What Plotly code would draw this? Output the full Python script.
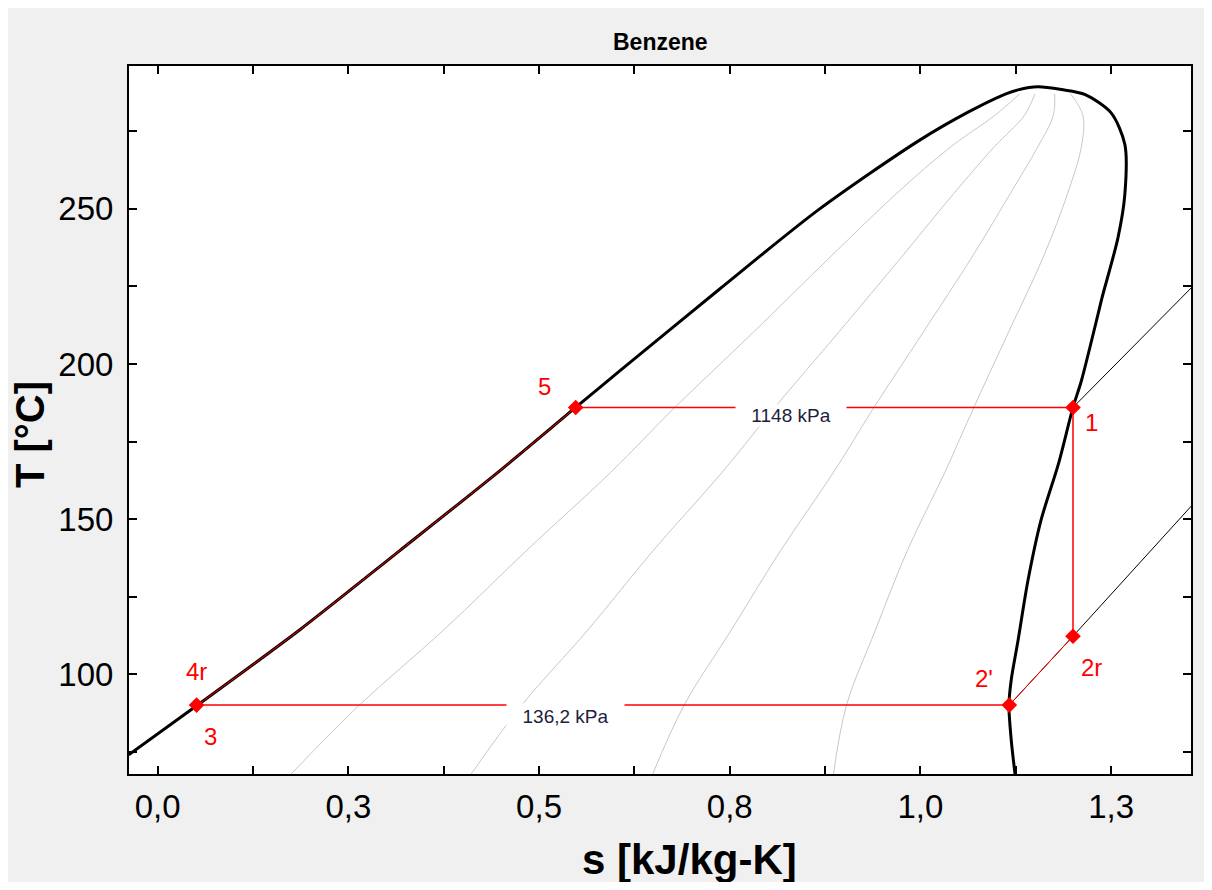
import plotly.graph_objects as go

# Saturation dome of benzene
s_liq = [-0.038, 0.051, 0.186, 0.317, 0.448, 0.548, 0.605, 0.736, 0.867, 0.997, 1.063, 1.106, 1.128, 1.154]
T_liq = [74.1, 89.9, 114.3, 139.8, 165.5, 186.0, 197.6, 224.0, 249.8, 271.8, 281.2, 286.4, 288.3, 289.3]
s_vap = [1.154, 1.185, 1.216, 1.250, 1.268, 1.268, 1.259, 1.238, 1.233, 1.211, 1.200, 1.181, 1.158, 1.141, 1.128, 1.119, 1.116, 1.119, 1.124]
T_vap = [289.3, 288.4, 286.8, 280.9, 270.7, 254.7, 240.7, 221.3, 216.2, 194.6, 186.0, 167.9, 149.6, 130.3, 111.0, 98.2, 90.1, 78.9, 67.9]

# Constant quality lines (x = 0.2, 0.4, 0.6, 0.8)
T_q = [67.9, 90.0, 114.3, 140.0, 165.1, 186.0, 210.0, 235.0, 255.0, 270.0, 280.0, 287.0]
s_q02 = [0.175, 0.264, 0.375, 0.484, 0.594, 0.678, 0.780, 0.884, 0.969, 1.040, 1.097, 1.130]
s_q04 = [0.411, 0.477, 0.564, 0.650, 0.740, 0.809, 0.892, 0.977, 1.044, 1.097, 1.136, 1.150]
s_q06 = [0.649, 0.690, 0.752, 0.817, 0.886, 0.939, 1.003, 1.069, 1.118, 1.154, 1.174, 1.176]
s_q08 = [0.886, 0.903, 0.941, 0.983, 1.032, 1.070, 1.115, 1.162, 1.193, 1.211, 1.213, 1.197]

# Isobars in the superheated region
s_hp = [1.200, 1.355]
T_hp = [186.0, 224.5]
s_lp = [1.1165, 1.200, 1.355]
T_lp = [90.1, 112.3, 154.2]

# Cycle state points
pt_names = ["1", "2r", "2'", "3", "5"]
pt_s = [1.200, 1.200, 1.1165, 0.051, 0.548]
pt_T = [186.0, 112.3, 90.1, 90.1, 186.0]

RED = "#ff0000"
FONT = "Arial, Liberation Sans, sans-serif"

fig = go.Figure()

# quality lines
for sq in [s_q02, s_q04, s_q06, s_q08]:
    fig.add_trace(go.Scatter(x=sq, y=T_q, mode="lines", line=dict(color="#c8c8c8", width=1),
                             line_shape="spline", hoverinfo="skip"))

# isobars
fig.add_trace(go.Scatter(x=s_hp, y=T_hp, mode="lines", line=dict(color="black", width=1), hoverinfo="skip"))
fig.add_trace(go.Scatter(x=s_lp, y=T_lp, mode="lines", line=dict(color="black", width=1), hoverinfo="skip"))

# dome
fig.add_trace(go.Scatter(x=s_liq + s_vap[1:], y=T_liq + T_vap[1:], mode="lines",
                         line=dict(color="black", width=3, smoothing=0.8), line_shape="spline",
                         hoverinfo="skip"))

# cycle lines
i1, i2r, i2p, i3, i5 = range(5)
fig.add_trace(go.Scatter(x=[pt_s[i5], pt_s[i1], pt_s[i2r]], y=[pt_T[i5], pt_T[i1], pt_T[i2r]],
                         mode="lines", line=dict(color=RED, width=1.5), hoverinfo="skip"))
fig.add_trace(go.Scatter(x=[pt_s[i2r], pt_s[i2p]], y=[pt_T[i2r], pt_T[i2p]],
                         mode="lines", line=dict(color=RED, width=1), hoverinfo="skip"))
fig.add_trace(go.Scatter(x=[pt_s[i2p], pt_s[i3]], y=[pt_T[i2p], pt_T[i3]],
                         mode="lines", line=dict(color=RED, width=1.5), hoverinfo="skip"))
fig.add_trace(go.Scatter(x=s_liq[1:6], y=T_liq[1:6], mode="lines", line=dict(color=RED, width=1, smoothing=0.8),
                         line_shape="spline", hoverinfo="skip"))

# state points
fig.add_trace(go.Scatter(x=pt_s, y=pt_T, mode="markers",
                         marker=dict(symbol="diamond", size=12, color=RED), hoverinfo="skip"))

# point labels
label_shift = {"1": (18, -15), "2r": (18, -31), "2'": (-25, 27), "3": (14, -31), "5": (-31, 21)}
for name, s, T in zip(pt_names, pt_s, pt_T):
    dx, dy = label_shift[name]
    fig.add_annotation(x=s, y=T, text=name, showarrow=False, xshift=dx, yshift=dy,
                       font=dict(family=FONT, size=24, color=RED))
fig.add_annotation(x=pt_s[i3], y=pt_T[i3], text="4r", showarrow=False, xshift=0, yshift=34,
                   font=dict(family=FONT, size=24, color=RED))

# pressure labels (white box breaks the line)
fig.add_annotation(x=0.830, y=pt_T[i1], text="1148 kPa", showarrow=False, yshift=-8,
                   width=110, height=21, bgcolor="white", borderpad=0,
                   font=dict(family=FONT, size=19, color="#1e1e3c"))
fig.add_annotation(x=0.535, y=pt_T[i2p], text="136,2 kPa", showarrow=False, yshift=-11,
                   width=117, height=24, bgcolor="white", borderpad=0,
                   font=dict(family=FONT, size=19, color="#1e1e3c"))

# titles
fig.add_annotation(xref="paper", yref="paper", x=0.5, y=1.034, yanchor="middle",
                   text="<b>Benzene</b>", showarrow=False,
                   font=dict(family=FONT, size=23, color="black"))
fig.add_annotation(xref="paper", yref="paper", x=0.528, y=-0.121, xanchor="center", yanchor="middle",
                   text="<b>s [kJ/kg-K]</b>", showarrow=False,
                   font=dict(family=FONT, size=42, color="black"))
fig.add_annotation(xref="paper", yref="paper", x=-0.093, y=0.479, xanchor="center", yanchor="middle",
                   text="<b>T [°C]</b>", textangle=-90, showarrow=False,
                   font=dict(family=FONT, size=40, color="black"))

x_tickvals = [i * 0.125 for i in range(11)]
x_ticktext = ["0,0", "", "0,3", "", "0,5", "", "0,8", "", "1,0", "", "1,3"]
y_tickvals = [75, 100, 125, 150, 175, 200, 225, 250, 275]
y_ticktext = ["", "100", "", "150", "", "200", "", "250", ""]

fig.update_layout(
    width=1196, height=874,
    margin=dict(l=121, r=11, t=58, b=108),
    paper_bgcolor="#f0f0f0",
    plot_bgcolor="white",
    showlegend=False,
    font=dict(family=FONT, size=33, color="black"),
)
fig.update_xaxes(range=[-0.0376, 1.3547], tickvals=x_tickvals, ticktext=x_ticktext,
                 ticks="inside", ticklen=8, tickwidth=2, tickcolor="black",
                 showline=True, linewidth=2, linecolor="black", mirror="ticks",
                 showgrid=False, zeroline=False, ticklabelstandoff=2)
fig.update_yaxes(range=[67.9, 296.0], tickvals=y_tickvals, ticktext=y_ticktext,
                 ticks="inside", ticklen=8, tickwidth=2, tickcolor="black",
                 showline=True, linewidth=2, linecolor="black", mirror="ticks",
                 showgrid=False, zeroline=False, ticklabelstandoff=7)

fig.write_html("out.html")
